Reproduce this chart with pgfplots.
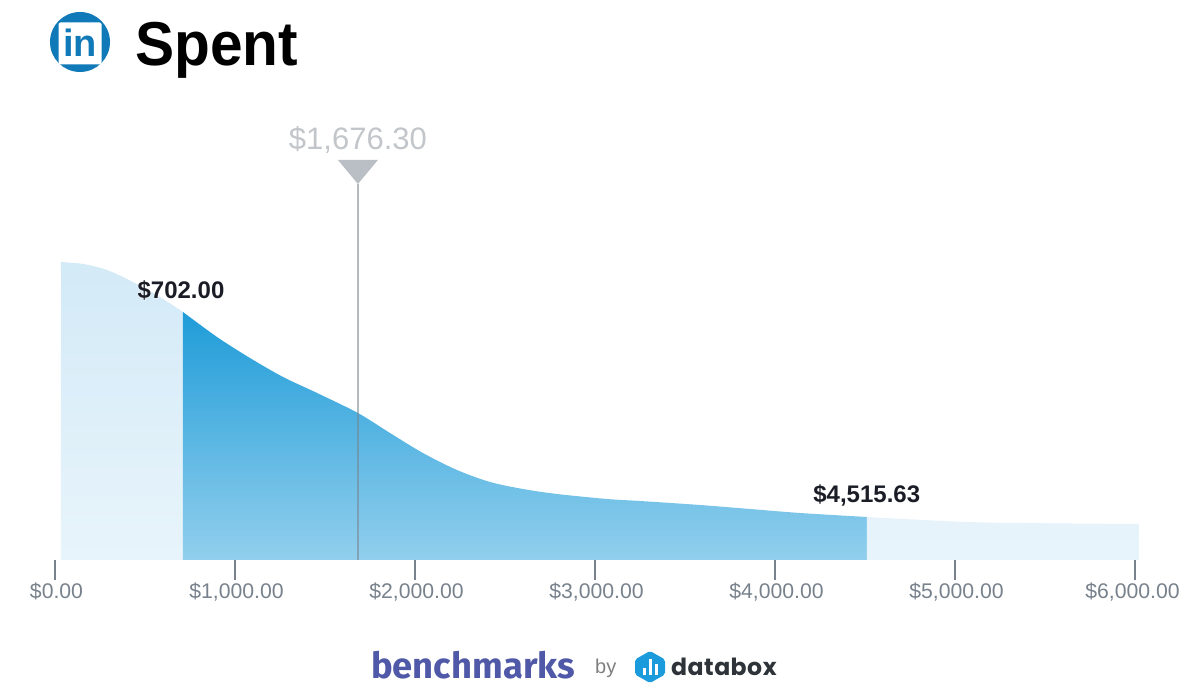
\documentclass[border=0pt]{standalone}
\usepackage{pgfplots}
\pgfplotsset{compat=1.18}
\usepackage{fontspec}
\setmainfont{Liberation Sans}
\newfontfamily\firaf{Fira Sans}
\newfontfamily\popf{Poppins}[LetterSpace=2]
\newfontfamily\halof{Liberation Sans Bold}[FakeBold=4,Color=FFFFFF]
\newcommand\sixk{\$6,000.00}
\definecolor{ltop}{HTML}{D3EAF7}
\definecolor{lbot}{HTML}{E8F4FB}
\definecolor{rtop}{HTML}{E7F3FA}
\definecolor{dtop}{HTML}{1F9CD8}
\definecolor{dbot}{HTML}{92CFED}
\definecolor{tickc}{HTML}{78828C}
\definecolor{medc}{HTML}{C2C6CA}
\definecolor{tric}{HTML}{B9BFC4}
\definecolor{labc}{HTML}{1B1D26}
\definecolor{lnk}{HTML}{1079B7}
\definecolor{bench}{HTML}{5059A8}
\definecolor{dbx}{HTML}{1C9BDC}
\definecolor{dbt}{HTML}{2D3338}
\begin{document}
\begin{tikzpicture}
\useasboundingbox (0,0) rectangle (1200pt,700pt);
\begin{axis}[
  at={(0pt,140pt)}, anchor=south west,
  scale only axis, width=1200pt, height=560pt,
  xmin=-305.56, xmax=6361.11, ymin=0, ymax=560,
  clip=false,
  axis x line=bottom, axis y line=none,
  axis line style={draw=none},
  xtick={0,1000,2000,3000,4000,5000},
  xticklabels={{\$0.00},{\$1,000.00},{\$2,000.00},{\$3,000.00},{\$4,000.00},{\$5,000.00}},
  extra x ticks={6000},
  extra x tick labels={\sixk},
  extra x tick style={x tick label style={xshift=-4pt}},
  xtick align=outside,
  major tick length=20pt,
  x tick style={draw=tickc,line width=2pt},
  x tick label style={font=\fontsize{21.2}{24}\selectfont,text=tickc,yshift=1pt,xshift=1.5pt},
  ytick=\empty,
]
% left tail
\addplot[draw=none,smooth,top color=ltop,bottom color=lbot] coordinates {
 (33,298) (156,296) (289,290) (433,278) (583,263) (711,248)} \closedcycle;
% central band
\addplot[draw=none,smooth,top color=dtop,bottom color=dbot] coordinates {
 (711,248) (900,223) (1083,202) (1267,183) (1456,167) (1683,147) (1861,127) (2044,107)
 (2233,90) (2417,78) (2600,71) (2789,66) (3067,61) (3250,59) (3583,55) (3861,51) (4139,47) (4511,43)} \closedcycle;
% right tail
\addplot[draw=none,smooth,top color=rtop,bottom color=lbot] coordinates {
 (4511,43) (5067,38) (5528,36.7) (6022,36)} \closedcycle;
% median line and marker
\addplot[draw=tickc,draw opacity=0.55,line width=1.5pt] coordinates {(1683,0) (1683,376)};
\addplot[draw=none,fill=tric] coordinates {(1572,400) (1794,400) (1683,376)} --cycle;
\node[font=\fontsize{31}{34}\selectfont,text=medc] at (axis cs:1683,420) {\$1,676.30};
\node[font=\halof\fontsize{24}{26}\selectfont] at (axis cs:700,270) {\$702.00};
\node[font=\bfseries\fontsize{24}{26}\selectfont,text=labc] at (axis cs:700,270) {\$702.00};
\node[font=\bfseries\fontsize{24}{26}\selectfont,text=labc] at (axis cs:4510,65) {\$4,515.63};
\end{axis}
\begin{scope}[x=1pt,y=-1pt,yshift=700pt]
  % LinkedIn logo
  \fill[lnk] (80,42) circle (30);
  \fill[white,rounded corners=2pt] (58.5,22.5) rectangle (101.5,64.5);
  \node[font=\bfseries\fontsize{38}{40}\selectfont,text=lnk] at (80,43) {in};
  % title
  \node[anchor=base west,inner sep=0pt,font=\bfseries\fontsize{62}{70}\selectfont,xscale=0.945] at (135,66) {Spent};
  % footer
  \node[anchor=base west,inner sep=0pt,font=\firaf\bfseries\fontsize{36}{38}\selectfont,text=bench,xscale=1.01] at (371,679) {benchmarks};
  \node[anchor=base west,inner sep=0pt,font=\fontsize{20}{22}\selectfont,text=gray] at (595,674) {by};
  \fill[dbx,rounded corners=2pt] (650,651) -- (665,659.5) -- (665,674.5) -- (650,683) -- (635,674.5) -- (635,659.5) -- cycle;
  \fill[white] (642.5,668) rectangle (645.5,675);
  \fill[white] (648.5,659) rectangle (651.5,675);
  \fill[white] (654.5,664) rectangle (657.5,675);
  \node[anchor=base west,inner sep=0pt,font=\popf\bfseries\fontsize{23.6}{27}\selectfont,text=dbt] at (671,676) {databox};
\end{scope}
\end{tikzpicture}
\end{document}
